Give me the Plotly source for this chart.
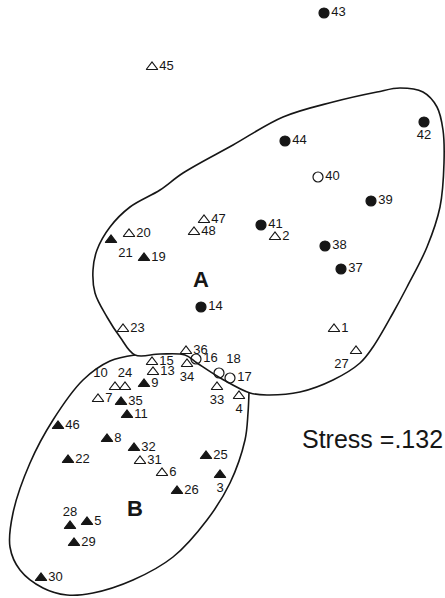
import plotly.graph_objects as go

# MDS configuration (dimension 1 to the right, dimension 2 downwards)
ids = [43, 45, 42, 44, 40, 39, 41, 2, 38, 37, 47, 48, 20, 21, 19, 14, 23, 1, 27,
       36, 16, 34, 18, 17, 33, 4, 25, 3, 15, 13, 10, 24, 9, 7, 35, 11, 46, 8, 32,
       22, 31, 6, 26, 28, 5, 29, 30]
dim1 = [324, 152, 424, 285, 318, 371, 261, 275, 325, 341, 204, 194, 129, 111, 144, 201, 123, 334, 356,
        186, 196, 187, 219, 230, 217, 239, 206, 220, 152, 153, 115, 125, 144, 98, 121, 127, 58, 107, 134,
        68, 140, 162, 177, 70, 87, 74, 41]
dim2 = [13, 67, 122, 141, 177, 201, 225, 237, 246, 269, 220, 232, 234, 240, 258, 307, 329, 329, 351,
        351, 359, 364, 373, 378, 387, 396, 456, 475, 362, 372, 387, 387, 384, 399, 402, 415, 426, 439, 448,
        460, 461, 473, 491, 526, 522, 543, 578]
# group symbol: 'ft' filled triangle, 'ot' open triangle, 'fc' filled circle, 'oc' open circle
group = ['fc', 'ot', 'fc', 'fc', 'oc', 'fc', 'fc', 'ot', 'fc', 'fc', 'ot', 'ot', 'ot', 'ft', 'ft', 'fc', 'ot', 'ot', 'ot',
         'ot', 'oc', 'ot', 'oc', 'oc', 'ot', 'ot', 'ft', 'ft', 'ot', 'ot', 'ot', 'ot', 'ft', 'ot', 'ft', 'ft', 'ft', 'ft', 'ft',
         'ft', 'ot', 'ot', 'ft', 'ft', 'ft', 'ft', 'ft']

# hand drawn cluster outlines (A is closed, B stops where it meets A)
a_x = [135, 120, 107, 95, 93, 97, 110, 130, 160, 183, 233, 283, 333, 377, 400, 423, 437, 443, 444, 440, 427,
       407, 393, 373, 360, 333, 300, 267, 250, 222, 197, 185, 160, 135]
a_y = [355, 337, 317, 293, 270, 250, 227, 207, 190, 173, 145, 117, 102, 92, 88, 92, 107, 130, 163, 207, 247,
       287, 313, 347, 363, 380, 392, 395, 393, 379, 363, 355, 354, 355]
b_x = [135, 110, 83, 53, 30, 13, 10, 20, 43, 67, 93, 133, 173, 207, 230, 245, 248, 249]
b_y = [355, 361, 380, 420, 463, 513, 547, 570, 588, 595, 593, 580, 557, 520, 483, 440, 413, 392]

symbols = {'ft': 'triangle-up', 'ot': 'triangle-up-open', 'fc': 'circle', 'oc': 'circle-open'}

label_pos = {42: 'bottom center', 21: 'bottom right', 27: 'bottom left', 34: 'bottom center',
             18: 'top right', 33: 'bottom center', 4: 'bottom center', 3: 'bottom center',
             10: 'top left', 24: 'top center', 28: 'top center'}

ink = '#161616'
font = 'Liberation Sans, Arial, sans-serif'

fig = go.Figure()

fig.add_trace(go.Scatter(x=a_x, y=a_y, mode='lines', line=dict(color=ink, width=1.6, shape='spline', smoothing=1),
                         hoverinfo='skip'))
fig.add_trace(go.Scatter(x=b_x, y=b_y, mode='lines', line=dict(color=ink, width=1.6, shape='spline', smoothing=1),
                         hoverinfo='skip'))

for g in ['ft', 'ot', 'fc', 'oc']:
    idx = [i for i in range(len(ids)) if group[i] == g]
    fig.add_trace(go.Scatter(
        x=[dim1[i] for i in idx],
        y=[dim2[i] for i in idx],
        mode='markers+text',
        marker=dict(symbol=symbols[g], size=10, color=ink, line=dict(color=ink, width=1.2)),
        text=[str(ids[i]) for i in idx],
        textposition=[label_pos.get(ids[i], 'middle right') for i in idx],
        textfont=dict(family=font, size=13, color=ink),
        hoverinfo='text'))

fig.add_annotation(x=201, y=279, text='<b>A</b>', showarrow=False, font=dict(family=font, size=22, color=ink))
fig.add_annotation(x=135, y=508, text='<b>B</b>', showarrow=False, font=dict(family=font, size=22, color=ink))
fig.add_annotation(x=445, y=439, text='Stress =.132', showarrow=False, xanchor='right',
                   font=dict(family=font, size=25, color=ink))

fig.update_layout(
    width=445, height=598,
    margin=dict(l=0, r=0, t=0, b=0),
    showlegend=False,
    plot_bgcolor='white', paper_bgcolor='white',
    xaxis=dict(range=[0, 445], visible=False, fixedrange=True),
    yaxis=dict(range=[598, 0], visible=False, fixedrange=True),
)

# drop the page's default body margin so the figure sits at the window corner
fig.write_html("out.html", config={'displayModeBar': False},
               post_script="document.body.style.margin='0';document.body.style.overflow='hidden';")
